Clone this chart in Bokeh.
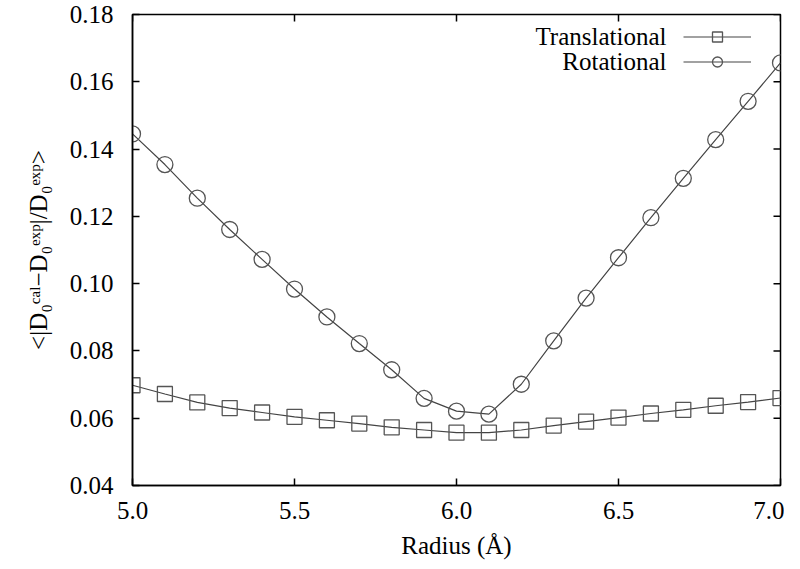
from bokeh.plotting import figure
from bokeh.models import Range1d, NumeralTickFormatter, FixedTicker, Legend, LegendItem, Label
from bokeh.embed import file_html
from bokeh.resources import INLINE
import math

radius = [5.0, 5.1, 5.2, 5.3, 5.4, 5.5, 5.6, 5.7, 5.8, 5.9, 6.0,
          6.1, 6.2, 6.3, 6.4, 6.5, 6.6, 6.7, 6.8, 6.9, 7.0]
translational = [0.0698, 0.0672, 0.0647, 0.0630, 0.0617, 0.0604, 0.0594, 0.0584, 0.0573, 0.0565, 0.0557,
                 0.0557, 0.0565, 0.0578, 0.0590, 0.0602, 0.0614, 0.0625, 0.0637, 0.0648, 0.0660]
rotational = [0.1445, 0.1354, 0.1254, 0.1161, 0.1072, 0.0984, 0.0901, 0.0822, 0.0744, 0.0659, 0.0621,
              0.0612, 0.0701, 0.0830, 0.0957, 0.1077, 0.1196, 0.1313, 0.1428, 0.1542, 0.1656]
series_names = ["Translational", "Rotational"]
x_ticks = [5.0, 5.5, 6.0, 6.5, 7.0]
y_ticks = [0.04, 0.06, 0.08, 0.10, 0.12, 0.14, 0.16, 0.18]
x_min, x_max = 5.0, 7.0
y_min, y_max = 0.04, 0.18

FONT = "Liberation Serif"
FS = "25px"

p = figure(width=784, height=562, output_backend="svg", toolbar_location=None,
           x_range=Range1d(x_min, x_max), y_range=Range1d(y_min, y_max),
           min_border_left=132, min_border_right=4, min_border_top=14, min_border_bottom=77,
           x_axis_label="Radius (Å)",
           y_axis_label="<|D₀ᶜᵃˡ−D₀ᵉˣᵖ|/D₀ᵉˣᵖ>")
p.grid.visible = False
p.outline_line_color = "black"
p.outline_line_width = 1.5
p.background_fill_color = "white"
p.border_fill_color = "white"

for ax, fmt, ticks in ((p.xaxis[0], "0.0", x_ticks), (p.yaxis[0], "0.00", y_ticks)):
    ax.ticker = FixedTicker(ticks=ticks)
    ax.formatter = NumeralTickFormatter(format=fmt)
    ax.major_label_text_font = FONT
    ax.major_label_text_font_size = FS
    ax.major_label_text_color = "black"
    ax.axis_label_text_font = FONT
    ax.axis_label_text_font_size = FS
    ax.axis_label_text_font_style = "normal"
    ax.axis_label_text_color = "black"
    ax.major_tick_in = 7
    ax.major_tick_out = 0
    ax.minor_tick_line_color = None
    ax.axis_line_width = 1.5
    ax.major_tick_line_width = 1.5
p.xaxis[0].major_label_standoff = 16
p.xaxis[0].axis_label_standoff = 10
p.yaxis[0].major_label_standoff = 19
p.yaxis[0].axis_label_standoff = 15

# mirror ticks on top and right edges (dash markers clipped by the frame)
p.scatter(x_ticks, [y_max] * len(x_ticks), marker="dash", size=14, angle=math.pi / 2,
          line_color="black", line_width=1.5)
p.scatter([x_max] * len(y_ticks), y_ticks, marker="dash", size=14,
          line_color="black", line_width=1.5)

line_col = "#444444"
mark_col = "#555555"

lt = p.line(radius, translational, line_color=line_col, line_width=1.2)
st = p.scatter(radius, translational, marker="square", size=15, fill_color=None,
               line_color=mark_col, line_width=1.3)
lr = p.line(radius, rotational, line_color=line_col, line_width=1.2)
sr = p.scatter(radius, rotational, marker="circle", size=16, fill_color=None,
               line_color=mark_col, line_width=1.3)

# gnuplot-style key: glyph samples on the right, right-aligned text on the left
legend = Legend(items=[LegendItem(label="", renderers=[lt, st]),
                       LegendItem(label="", renderers=[lr, sr])],
                location=(551, 469 - 8 - 50), border_line_color=None, background_fill_alpha=0,
                label_text_font_size="1px", glyph_width=68, glyph_height=25, spacing=0,
                padding=0, margin=0, label_standoff=0, label_width=0, label_height=1)
p.add_layout(legend)

for i, name in enumerate(series_names):
    p.add_layout(Label(x=534, y=449 - 25 * i, x_units="screen", y_units="screen", text=name,
                       text_align="right", text_baseline="middle", text_font=FONT,
                       text_font_size=FS, text_color="black"))

open("out.html", "w").write(file_html(p, INLINE))
